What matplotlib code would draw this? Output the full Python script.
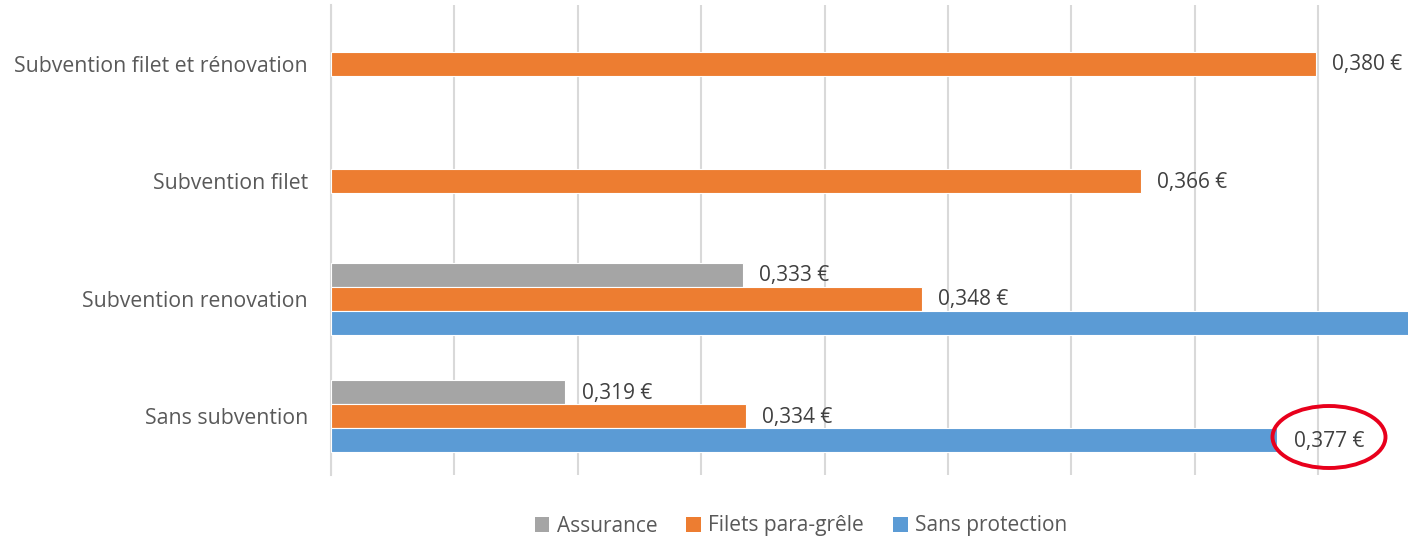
import matplotlib
matplotlib.use("Agg")
import matplotlib.pyplot as plt
from matplotlib.patches import Ellipse, Patch
import numpy as np

categories = ["Sans subvention", "Subvention renovation", "Subvention filet", "Subvention filet et rénovation"]
assurance = [0.3190, 0.3334, np.nan, np.nan]
filets = [0.3336, 0.3479, 0.3656, 0.3798]
sans_protection = [0.3767, 0.3920, np.nan, np.nan]
series_names = ["Assurance", "Filets para-grêle", "Sans protection"]
colors = ["#a5a5a5", "#ed7d31", "#5b9bd5"]

plt.rcParams['font.family'] = ['Open Sans', 'DejaVu Sans']

W, H = 1408, 543
fig = plt.figure(figsize=(W/100, H/100), dpi=100)
ax_left, ax_right, ax_top, ax_bot = 331, 1408, 5, 475
ax = fig.add_axes([ax_left/W, 1-ax_bot/H, (ax_right-ax_left)/W, (ax_bot-ax_top)/H])

xmin = 0.30
xmax = 0.30 + (ax_right - ax_left) / 12340
y = np.arange(len(categories))
h = 0.204
series = [assurance, filets, sans_protection]
offsets = [h, 0, -h]
for vals, off, col in zip(series, offsets, colors):
    v = np.array(vals, dtype=float)
    mask = ~np.isnan(v)
    ax.barh(y[mask] + off, v[mask] - xmin, left=xmin, height=h, color=col,
            edgecolor="white", linewidth=0.8, zorder=3)
    for yi, vi in zip(y[mask] + off, v[mask]):
        if vi + 0.0013 < xmax:
            ax.text(vi + 0.0013, yi - 0.01, f"{vi:.3f}".replace('.', ',') + " €",
                    va='center', ha='left', fontsize=15, color="#404040", zorder=4)

ax.set_xlim(xmin, xmax)
ax.set_ylim(-0.5, len(categories) - 0.5)
ax.set_xticks(np.arange(0.30, 0.3875, 0.01))
ax.set_xticklabels([])
ax.tick_params(axis='x', length=0)
ax.tick_params(axis='y', length=0, pad=16.5)
ax.set_yticks(y)
ax.set_yticklabels(categories, fontsize=15.3, color="#595959")
ax.grid(axis='x', color="#d9d9d9", linewidth=1.5, zorder=0)
for s in ['top', 'right', 'bottom']:
    ax.spines[s].set_visible(False)
ax.spines['left'].set_color("#d9d9d9")
ax.spines['left'].set_linewidth(1.5)

# red ellipse highlight
cx, cy = 1329, 437
ell = Ellipse((cx/W, 1-cy/H), 113/W, 62/H, transform=fig.transFigure,
              fill=False, edgecolor="#e8001c", linewidth=2.8, zorder=10)
fig.patches.append(ell)

handles = [Patch(facecolor=c, edgecolor='none') for c in colors]
fig.legend(handles, series_names, loc='center', bbox_to_anchor=(801/W, 1-526/H),
           ncol=3, frameon=False, fontsize=15, labelcolor="#595959",
           handlelength=0.7, handleheight=0.7, handletextpad=0.35, columnspacing=1.4)

fig.savefig("out.png", dpi=100)
